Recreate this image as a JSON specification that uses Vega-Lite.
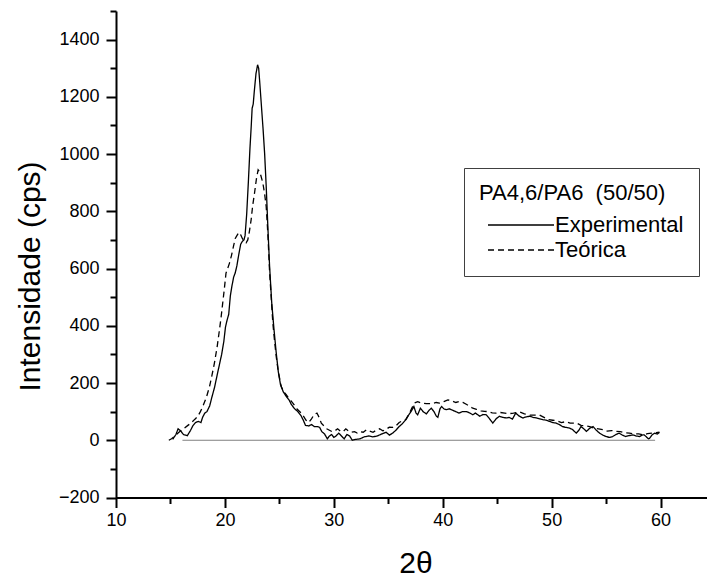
{
  "$schema": "https://vega.github.io/schema/vega-lite/v6.json",
  "autosize": {"type": "none"},
  "padding": {"left": 116, "top": 11, "right": 0, "bottom": 80.5},
  "width": 599,
  "height": 486.5,
  "background": "white",
  "config": {
    "view": {"stroke": null},
    "font": "Liberation Sans",
    "axis": {"grid": false, "labelFlush": false, "labelOverlap": false, "domainColor": "black", "tickColor": "black", "labelColor": "black", "titleColor": "black"}
  },
  "datasets": {
    "base": [{"x": 16.1, "x2": 59.5, "y": 0}],
    "curves": [
      {"t":15.2,"i":3,"s":"Experimental"},{"t":15.5,"i":20,"s":"Experimental"},{"t":15.7,"i":40,"s":"Experimental"},{"t":15.95,"i":32,"s":"Experimental"},{"t":16.2,"i":20,"s":"Experimental"},{"t":16.55,"i":16,"s":"Experimental"},{"t":16.85,"i":35,"s":"Experimental"},{"t":17.05,"i":50,"s":"Experimental"},{"t":17.3,"i":62,"s":"Experimental"},{"t":17.55,"i":66,"s":"Experimental"},{"t":17.8,"i":62,"s":"Experimental"},{"t":17.95,"i":80,"s":"Experimental"},{"t":18.15,"i":95,"s":"Experimental"},{"t":18.35,"i":100,"s":"Experimental"},{"t":18.6,"i":120,"s":"Experimental"},{"t":18.8,"i":150,"s":"Experimental"},{"t":19.05,"i":185,"s":"Experimental"},{"t":19.3,"i":230,"s":"Experimental"},{"t":19.5,"i":265,"s":"Experimental"},{"t":19.7,"i":300,"s":"Experimental"},{"t":19.9,"i":345,"s":"Experimental"},{"t":20.05,"i":395,"s":"Experimental"},{"t":20.2,"i":420,"s":"Experimental"},{"t":20.35,"i":440,"s":"Experimental"},{"t":20.5,"i":505,"s":"Experimental"},{"t":20.65,"i":540,"s":"Experimental"},{"t":20.8,"i":570,"s":"Experimental"},{"t":20.95,"i":585,"s":"Experimental"},{"t":21.1,"i":610,"s":"Experimental"},{"t":21.3,"i":655,"s":"Experimental"},{"t":21.45,"i":685,"s":"Experimental"},{"t":21.6,"i":695,"s":"Experimental"},{"t":21.75,"i":700,"s":"Experimental"},{"t":21.85,"i":715,"s":"Experimental"},{"t":22.0,"i":790,"s":"Experimental"},{"t":22.15,"i":900,"s":"Experimental"},{"t":22.3,"i":1020,"s":"Experimental"},{"t":22.42,"i":1100,"s":"Experimental"},{"t":22.5,"i":1160,"s":"Experimental"},{"t":22.6,"i":1175,"s":"Experimental"},{"t":22.7,"i":1220,"s":"Experimental"},{"t":22.85,"i":1280,"s":"Experimental"},{"t":23.0,"i":1312,"s":"Experimental"},{"t":23.1,"i":1300,"s":"Experimental"},{"t":23.2,"i":1250,"s":"Experimental"},{"t":23.35,"i":1170,"s":"Experimental"},{"t":23.5,"i":1090,"s":"Experimental"},{"t":23.65,"i":1000,"s":"Experimental"},{"t":23.8,"i":880,"s":"Experimental"},{"t":23.95,"i":740,"s":"Experimental"},{"t":24.1,"i":610,"s":"Experimental"},{"t":24.3,"i":480,"s":"Experimental"},{"t":24.5,"i":390,"s":"Experimental"},{"t":24.7,"i":310,"s":"Experimental"},{"t":24.9,"i":240,"s":"Experimental"},{"t":25.1,"i":195,"s":"Experimental"},{"t":25.35,"i":170,"s":"Experimental"},{"t":25.6,"i":155,"s":"Experimental"},{"t":25.9,"i":140,"s":"Experimental"},{"t":26.1,"i":125,"s":"Experimental"},{"t":26.4,"i":110,"s":"Experimental"},{"t":26.7,"i":100,"s":"Experimental"},{"t":27.0,"i":85,"s":"Experimental"},{"t":27.2,"i":70,"s":"Experimental"},{"t":27.4,"i":52,"s":"Experimental"},{"t":27.7,"i":50,"s":"Experimental"},{"t":27.95,"i":55,"s":"Experimental"},{"t":28.2,"i":48,"s":"Experimental"},{"t":28.5,"i":48,"s":"Experimental"},{"t":28.7,"i":45,"s":"Experimental"},{"t":28.9,"i":30,"s":"Experimental"},{"t":29.15,"i":22,"s":"Experimental"},{"t":29.4,"i":5,"s":"Experimental"},{"t":29.6,"i":15,"s":"Experimental"},{"t":29.8,"i":20,"s":"Experimental"},{"t":30.0,"i":10,"s":"Experimental"},{"t":30.2,"i":15,"s":"Experimental"},{"t":30.45,"i":25,"s":"Experimental"},{"t":30.7,"i":15,"s":"Experimental"},{"t":30.95,"i":5,"s":"Experimental"},{"t":31.2,"i":20,"s":"Experimental"},{"t":31.45,"i":15,"s":"Experimental"},{"t":31.7,"i":0,"s":"Experimental"},{"t":32.0,"i":3,"s":"Experimental"},{"t":32.4,"i":5,"s":"Experimental"},{"t":32.8,"i":12,"s":"Experimental"},{"t":33.2,"i":15,"s":"Experimental"},{"t":33.6,"i":12,"s":"Experimental"},{"t":34.0,"i":15,"s":"Experimental"},{"t":34.4,"i":22,"s":"Experimental"},{"t":34.8,"i":28,"s":"Experimental"},{"t":35.1,"i":18,"s":"Experimental"},{"t":35.4,"i":25,"s":"Experimental"},{"t":35.7,"i":35,"s":"Experimental"},{"t":36.0,"i":48,"s":"Experimental"},{"t":36.3,"i":58,"s":"Experimental"},{"t":36.65,"i":74,"s":"Experimental"},{"t":36.9,"i":90,"s":"Experimental"},{"t":37.1,"i":101,"s":"Experimental"},{"t":37.35,"i":118,"s":"Experimental"},{"t":37.55,"i":95,"s":"Experimental"},{"t":37.7,"i":89,"s":"Experimental"},{"t":37.95,"i":112,"s":"Experimental"},{"t":38.2,"i":100,"s":"Experimental"},{"t":38.5,"i":92,"s":"Experimental"},{"t":38.75,"i":105,"s":"Experimental"},{"t":38.95,"i":112,"s":"Experimental"},{"t":39.2,"i":100,"s":"Experimental"},{"t":39.4,"i":85,"s":"Experimental"},{"t":39.55,"i":80,"s":"Experimental"},{"t":39.75,"i":110,"s":"Experimental"},{"t":39.9,"i":118,"s":"Experimental"},{"t":40.1,"i":110,"s":"Experimental"},{"t":40.3,"i":107,"s":"Experimental"},{"t":40.6,"i":110,"s":"Experimental"},{"t":40.9,"i":105,"s":"Experimental"},{"t":41.2,"i":100,"s":"Experimental"},{"t":41.5,"i":95,"s":"Experimental"},{"t":41.8,"i":100,"s":"Experimental"},{"t":42.2,"i":100,"s":"Experimental"},{"t":42.5,"i":95,"s":"Experimental"},{"t":42.76,"i":89,"s":"Experimental"},{"t":43.0,"i":95,"s":"Experimental"},{"t":43.4,"i":84,"s":"Experimental"},{"t":43.7,"i":90,"s":"Experimental"},{"t":44.0,"i":89,"s":"Experimental"},{"t":44.3,"i":75,"s":"Experimental"},{"t":44.6,"i":60,"s":"Experimental"},{"t":44.9,"i":75,"s":"Experimental"},{"t":45.2,"i":84,"s":"Experimental"},{"t":45.5,"i":80,"s":"Experimental"},{"t":45.83,"i":78,"s":"Experimental"},{"t":46.1,"i":80,"s":"Experimental"},{"t":46.4,"i":74,"s":"Experimental"},{"t":46.7,"i":95,"s":"Experimental"},{"t":47.0,"i":85,"s":"Experimental"},{"t":47.35,"i":78,"s":"Experimental"},{"t":47.7,"i":82,"s":"Experimental"},{"t":48.0,"i":84,"s":"Experimental"},{"t":48.3,"i":80,"s":"Experimental"},{"t":48.6,"i":78,"s":"Experimental"},{"t":48.9,"i":75,"s":"Experimental"},{"t":49.2,"i":72,"s":"Experimental"},{"t":49.5,"i":70,"s":"Experimental"},{"t":49.8,"i":66,"s":"Experimental"},{"t":50.1,"i":62,"s":"Experimental"},{"t":50.4,"i":60,"s":"Experimental"},{"t":50.7,"i":55,"s":"Experimental"},{"t":51.0,"i":48,"s":"Experimental"},{"t":51.3,"i":45,"s":"Experimental"},{"t":51.6,"i":43,"s":"Experimental"},{"t":51.9,"i":38,"s":"Experimental"},{"t":52.26,"i":25,"s":"Experimental"},{"t":52.5,"i":35,"s":"Experimental"},{"t":52.7,"i":48,"s":"Experimental"},{"t":52.95,"i":40,"s":"Experimental"},{"t":53.2,"i":31,"s":"Experimental"},{"t":53.5,"i":42,"s":"Experimental"},{"t":53.8,"i":48,"s":"Experimental"},{"t":54.1,"i":35,"s":"Experimental"},{"t":54.4,"i":25,"s":"Experimental"},{"t":54.7,"i":18,"s":"Experimental"},{"t":55.0,"i":13,"s":"Experimental"},{"t":55.3,"i":10,"s":"Experimental"},{"t":55.6,"i":13,"s":"Experimental"},{"t":55.9,"i":20,"s":"Experimental"},{"t":56.2,"i":25,"s":"Experimental"},{"t":56.5,"i":18,"s":"Experimental"},{"t":56.8,"i":13,"s":"Experimental"},{"t":57.1,"i":16,"s":"Experimental"},{"t":57.45,"i":19,"s":"Experimental"},{"t":57.75,"i":15,"s":"Experimental"},{"t":58.07,"i":13,"s":"Experimental"},{"t":58.3,"i":18,"s":"Experimental"},{"t":58.5,"i":19,"s":"Experimental"},{"t":58.75,"i":10,"s":"Experimental"},{"t":58.9,"i":5,"s":"Experimental"},{"t":59.0,"i":7,"s":"Experimental"},{"t":59.2,"i":18,"s":"Experimental"},{"t":59.45,"i":25,"s":"Experimental"},{"t":59.7,"i":22,"s":"Experimental"},{"t":59.9,"i":27,"s":"Experimental"},
      {"t":14.85,"i":0,"s":"Teórica"},{"t":15.1,"i":5,"s":"Teórica"},{"t":15.4,"i":15,"s":"Teórica"},{"t":15.7,"i":25,"s":"Teórica"},{"t":16.0,"i":35,"s":"Teórica"},{"t":16.3,"i":43,"s":"Teórica"},{"t":16.6,"i":52,"s":"Teórica"},{"t":16.9,"i":60,"s":"Teórica"},{"t":17.2,"i":72,"s":"Teórica"},{"t":17.5,"i":83,"s":"Teórica"},{"t":17.75,"i":100,"s":"Teórica"},{"t":17.97,"i":118,"s":"Teórica"},{"t":18.3,"i":150,"s":"Teórica"},{"t":18.59,"i":188,"s":"Teórica"},{"t":18.8,"i":225,"s":"Teórica"},{"t":19.04,"i":270,"s":"Teórica"},{"t":19.3,"i":330,"s":"Teórica"},{"t":19.5,"i":386,"s":"Teórica"},{"t":19.65,"i":430,"s":"Teórica"},{"t":19.8,"i":480,"s":"Teórica"},{"t":19.95,"i":530,"s":"Teórica"},{"t":20.1,"i":584,"s":"Teórica"},{"t":20.25,"i":600,"s":"Teórica"},{"t":20.42,"i":619,"s":"Teórica"},{"t":20.6,"i":645,"s":"Teórica"},{"t":20.8,"i":680,"s":"Teórica"},{"t":20.95,"i":705,"s":"Teórica"},{"t":21.1,"i":715,"s":"Teórica"},{"t":21.28,"i":726,"s":"Teórica"},{"t":21.45,"i":718,"s":"Teórica"},{"t":21.6,"i":705,"s":"Teórica"},{"t":21.8,"i":695,"s":"Teórica"},{"t":21.95,"i":690,"s":"Teórica"},{"t":22.1,"i":700,"s":"Teórica"},{"t":22.25,"i":730,"s":"Teórica"},{"t":22.41,"i":771,"s":"Teórica"},{"t":22.55,"i":820,"s":"Teórica"},{"t":22.72,"i":864,"s":"Teórica"},{"t":22.9,"i":915,"s":"Teórica"},{"t":23.05,"i":945,"s":"Teórica"},{"t":23.15,"i":940,"s":"Teórica"},{"t":23.3,"i":925,"s":"Teórica"},{"t":23.48,"i":900,"s":"Teórica"},{"t":23.65,"i":860,"s":"Teórica"},{"t":23.79,"i":817,"s":"Teórica"},{"t":23.9,"i":750,"s":"Teórica"},{"t":23.97,"i":700,"s":"Teórica"},{"t":24.1,"i":590,"s":"Teórica"},{"t":24.25,"i":500,"s":"Teórica"},{"t":24.4,"i":410,"s":"Teórica"},{"t":24.55,"i":350,"s":"Teórica"},{"t":24.71,"i":293,"s":"Teórica"},{"t":24.9,"i":240,"s":"Teórica"},{"t":25.17,"i":188,"s":"Teórica"},{"t":25.4,"i":170,"s":"Teórica"},{"t":25.63,"i":159,"s":"Teórica"},{"t":25.9,"i":145,"s":"Teórica"},{"t":26.24,"i":130,"s":"Teórica"},{"t":26.6,"i":110,"s":"Teórica"},{"t":27.0,"i":95,"s":"Teórica"},{"t":27.2,"i":85,"s":"Teórica"},{"t":27.45,"i":70,"s":"Teórica"},{"t":27.7,"i":62,"s":"Teórica"},{"t":27.95,"i":75,"s":"Teórica"},{"t":28.2,"i":90,"s":"Teórica"},{"t":28.45,"i":95,"s":"Teórica"},{"t":28.65,"i":80,"s":"Teórica"},{"t":28.85,"i":60,"s":"Teórica"},{"t":29.1,"i":50,"s":"Teórica"},{"t":29.35,"i":40,"s":"Teórica"},{"t":29.6,"i":35,"s":"Teórica"},{"t":29.85,"i":30,"s":"Teórica"},{"t":30.1,"i":33,"s":"Teórica"},{"t":30.35,"i":40,"s":"Teórica"},{"t":30.6,"i":32,"s":"Teórica"},{"t":30.85,"i":30,"s":"Teórica"},{"t":31.1,"i":40,"s":"Teórica"},{"t":31.35,"i":32,"s":"Teórica"},{"t":31.6,"i":28,"s":"Teórica"},{"t":31.9,"i":30,"s":"Teórica"},{"t":32.15,"i":25,"s":"Teórica"},{"t":32.4,"i":30,"s":"Teórica"},{"t":32.7,"i":28,"s":"Teórica"},{"t":33.0,"i":37,"s":"Teórica"},{"t":33.3,"i":32,"s":"Teórica"},{"t":33.6,"i":28,"s":"Teórica"},{"t":33.9,"i":35,"s":"Teórica"},{"t":34.2,"i":40,"s":"Teórica"},{"t":34.5,"i":33,"s":"Teórica"},{"t":34.8,"i":38,"s":"Teórica"},{"t":35.1,"i":46,"s":"Teórica"},{"t":35.4,"i":45,"s":"Teórica"},{"t":35.7,"i":50,"s":"Teórica"},{"t":36.0,"i":62,"s":"Teórica"},{"t":36.3,"i":68,"s":"Teórica"},{"t":36.6,"i":72,"s":"Teórica"},{"t":36.95,"i":95,"s":"Teórica"},{"t":37.2,"i":115,"s":"Teórica"},{"t":37.4,"i":130,"s":"Teórica"},{"t":37.7,"i":135,"s":"Teórica"},{"t":38.0,"i":130,"s":"Teórica"},{"t":38.5,"i":128,"s":"Teórica"},{"t":39.0,"i":128,"s":"Teórica"},{"t":39.4,"i":132,"s":"Teórica"},{"t":39.7,"i":130,"s":"Teórica"},{"t":40.1,"i":135,"s":"Teórica"},{"t":40.47,"i":141,"s":"Teórica"},{"t":40.8,"i":138,"s":"Teórica"},{"t":41.2,"i":132,"s":"Teórica"},{"t":41.5,"i":135,"s":"Teórica"},{"t":41.85,"i":132,"s":"Teórica"},{"t":42.2,"i":125,"s":"Teórica"},{"t":42.5,"i":118,"s":"Teórica"},{"t":42.76,"i":112,"s":"Teórica"},{"t":43.1,"i":108,"s":"Teórica"},{"t":43.5,"i":103,"s":"Teórica"},{"t":43.84,"i":101,"s":"Teórica"},{"t":44.2,"i":100,"s":"Teórica"},{"t":44.55,"i":96,"s":"Teórica"},{"t":44.9,"i":95,"s":"Teórica"},{"t":45.3,"i":97,"s":"Teórica"},{"t":45.7,"i":95,"s":"Teórica"},{"t":46.1,"i":93,"s":"Teórica"},{"t":46.5,"i":95,"s":"Teórica"},{"t":47.05,"i":99,"s":"Teórica"},{"t":47.5,"i":92,"s":"Teórica"},{"t":48.0,"i":88,"s":"Teórica"},{"t":48.5,"i":88,"s":"Teórica"},{"t":48.9,"i":88,"s":"Teórica"},{"t":49.3,"i":80,"s":"Teórica"},{"t":49.7,"i":72,"s":"Teórica"},{"t":50.1,"i":70,"s":"Teórica"},{"t":50.5,"i":68,"s":"Teórica"},{"t":50.9,"i":62,"s":"Teórica"},{"t":51.3,"i":65,"s":"Teórica"},{"t":51.7,"i":60,"s":"Teórica"},{"t":52.0,"i":60,"s":"Teórica"},{"t":52.3,"i":60,"s":"Teórica"},{"t":52.7,"i":52,"s":"Teórica"},{"t":53.1,"i":50,"s":"Teórica"},{"t":53.5,"i":48,"s":"Teórica"},{"t":53.9,"i":42,"s":"Teórica"},{"t":54.3,"i":40,"s":"Teórica"},{"t":54.7,"i":37,"s":"Teórica"},{"t":55.1,"i":32,"s":"Teórica"},{"t":55.5,"i":34,"s":"Teórica"},{"t":55.9,"i":31,"s":"Teórica"},{"t":56.3,"i":30,"s":"Teórica"},{"t":56.7,"i":26,"s":"Teórica"},{"t":57.15,"i":25,"s":"Teórica"},{"t":57.6,"i":22,"s":"Teórica"},{"t":58.0,"i":22,"s":"Teórica"},{"t":58.4,"i":19,"s":"Teórica"},{"t":58.8,"i":23,"s":"Teórica"},{"t":59.2,"i":25,"s":"Teórica"},{"t":59.6,"i":27,"s":"Teórica"},{"t":59.9,"i":28,"s":"Teórica"}
    ]
  },
  "layer": [
    {
      "data": {"name": "base"},
      "mark": {"type": "rule", "color": "#808080", "strokeWidth": 1},
      "encoding": {
        "x": {"field": "x", "type": "quantitative", "scale": {"domain": [10, 65], "nice": false, "zero": false},
              "axis": {"orient": "bottom", "values": [15, 25, 35, 45, 55], "labels": false, "title": null, "domain": false, "tickSize": 6, "tickWidth": 2}},
        "x2": {"field": "x2"},
        "y": {"field": "y", "type": "quantitative", "scale": {"domain": [-200, 1500], "nice": false, "zero": false},
              "axis": {"orient": "left", "values": [-100, 100, 300, 500, 700, 900, 1100, 1300, 1500], "labels": false, "title": null, "domain": false, "tickSize": 6, "tickWidth": 2}}
      }
    },
    {
      "data": {"name": "curves"},
      "mark": {"type": "line", "color": "black", "strokeWidth": 1.3},
      "encoding": {
        "x": {"field": "t", "type": "quantitative",
              "axis": {"orient": "bottom", "values": [10, 20, 30, 40, 50, 60], "format": "d", "title": "2θ", "titleFontSize": 30, "titleFontWeight": "normal", "titleY": 75, "titleBaseline": "alphabetic", "labelFontSize": 18, "tickSize": 10, "tickWidth": 2, "domainWidth": 2, "labelPadding": 4}},
        "y": {"field": "i", "type": "quantitative",
              "axis": {"orient": "left", "values": [-200, 0, 200, 400, 600, 800, 1000, 1200, 1400], "format": "d", "title": "Intensidade (cps)", "titleFontSize": 30, "titleFontWeight": "normal", "titleX": -86, "titleY": 265, "titleAngle": -90, "titleAlign": "center", "titleBaseline": "middle", "labelFontSize": 18, "tickSize": 10, "tickWidth": 2, "domainWidth": 2, "labelPadding": 7}},
        "strokeDash": {"field": "s", "type": "nominal",
              "scale": {"domain": ["Experimental", "Teórica"], "range": [[1, 0], [6, 4]]},
              "legend": {"orient": "none", "legendX": 348, "legendY": 157, "title": "\u2002PA4,6/PA6\u00a0 (50/50)", "titleFontSize": 22, "titleFontWeight": "normal", "titleColor": "black", "titleLimit": 400, "titlePadding": 9, "labelFontSize": 22, "labelLimit": 300, "labelColor": "black", "padding": 15, "strokeColor": "#404040", "fillColor": "white", "symbolType": "M-3.3,0H3.3", "symbolSize": 400, "symbolStrokeWidth": 1.3, "symbolStrokeColor": "black", "symbolOffset": 31, "labelOffset": 23, "rowPadding": 3}}
      }
    }
  ],
  "resolve": {"axis": {"x": "independent", "y": "independent"}}
}
